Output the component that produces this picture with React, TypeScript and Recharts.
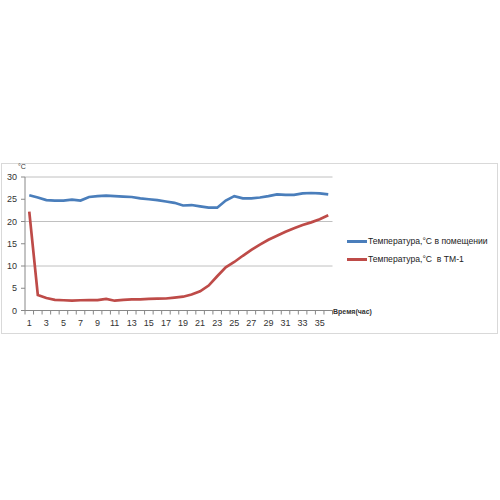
import React from 'react';
import { LineChart, Line, XAxis, YAxis, CartesianGrid } from 'recharts';

const hours = [1, 2, 3, 4, 5, 6, 7, 8, 9, 10, 11, 12, 13, 14, 15, 16, 17, 18, 19, 20, 21, 22, 23, 24, 25, 26, 27, 28, 29, 30, 31, 32, 33, 34, 35, 36];
const roomTemp = [25.9, 25.4, 24.8, 24.7, 24.7, 24.9, 24.7, 25.5, 25.7, 25.8, 25.7, 25.6, 25.5, 25.2, 25.0, 24.8, 24.5, 24.2, 23.6, 23.7, 23.4, 23.1, 23.1, 24.7, 25.7, 25.2, 25.2, 25.4, 25.7, 26.1, 26.0, 26.0, 26.3, 26.4, 26.3, 26.1];
const tmTemp = [22.2, 3.5, 2.8, 2.4, 2.3, 2.2, 2.3, 2.35, 2.35, 2.6, 2.2, 2.4, 2.5, 2.5, 2.6, 2.65, 2.7, 2.9, 3.1, 3.6, 4.3, 5.6, 7.7, 9.7, 10.9, 12.3, 13.6, 14.8, 15.9, 16.8, 17.7, 18.5, 19.2, 19.8, 20.5, 21.4];
const yTicks = [0, 5, 10, 15, 20, 25, 30];
const seriesNames = ['Температура,°C в помещении', 'Температура,°C  в ТМ-1'];
const seriesColors = ['#4A7EBB', '#BE4B48'];

const data = hours.map((h, i) => ({ hour: h, room: roomTemp[i], tm: tmTemp[i] }));

const FONT = '"Liberation Sans", Arial, sans-serif';
const HALF_BAND = 4.27;

const XTick = (props: any) => {
  const { x, y, payload, index } = props;
  const isLast = index === hours.length - 1;
  return (
    <g>
      <line x1={x - HALF_BAND} x2={x - HALF_BAND} y1={y - 6} y2={y - 2} stroke="#888" />
      {isLast && <line x1={x + HALF_BAND} x2={x + HALF_BAND} y1={y - 6} y2={y - 2} stroke="#888" />}
      {payload.value % 2 === 1 && (
        <text x={x} y={y + 3} dy="0.71em" textAnchor="middle" fontSize={9} fill="#333" fontFamily={FONT}>
          {payload.value}
        </text>
      )}
    </g>
  );
};

export default function App() {
  return (
    <div style={{ position: 'absolute', left: 0, top: 0, width: 500, height: 500, background: '#fff' }}>
      <div style={{ position: 'absolute', left: 1, top: 163, width: 495, height: 169, border: '1px solid #d9d9d9' }} />
      <div style={{ position: 'absolute', left: 0, top: 0 }}>
        <LineChart width={500} height={500} data={data} margin={{ top: 177, left: 0, right: 167.5, bottom: 159.5 }}>
          <CartesianGrid vertical={false} stroke="#c0c0c0" />
          <XAxis
            dataKey="hour"
            interval={0}
            tick={<XTick />}
            tickLine={false}
            tickSize={0}
            tickMargin={6}
            stroke="#888"
            height={30}
            padding={{ left: HALF_BAND, right: HALF_BAND }}
          />
          <YAxis
            domain={[0, 30]}
            ticks={yTicks}
            width={25}
            tickSize={4}
            tickMargin={4}
            stroke="#888"
            tick={{ fontSize: 9, fill: '#333', fontFamily: FONT }}
          />
          <Line type="linear" dataKey="room" name={seriesNames[0]} stroke={seriesColors[0]} strokeWidth={2.7} dot={false} isAnimationActive={false} />
          <Line type="linear" dataKey="tm" name={seriesNames[1]} stroke={seriesColors[1]} strokeWidth={2.7} dot={false} isAnimationActive={false} />
        </LineChart>
      </div>
      <div style={{ position: 'absolute', left: 347, top: 232, fontFamily: FONT, fontSize: 8.6, color: '#222' }}>
        {seriesNames.map((n, i) => (
          <div key={n} style={{ display: 'flex', alignItems: 'center', height: 18, whiteSpace: 'pre' }}>
            <div style={{ width: 20, height: 3, background: seriesColors[i], marginRight: 1 }} />
            <span>{n}</span>
          </div>
        ))}
      </div>
      <div style={{ position: 'absolute', left: 18, top: 163, fontFamily: FONT, fontSize: 7, color: '#333' }}>°C</div>
      <div style={{ position: 'absolute', left: 333, top: 308, fontFamily: FONT, fontSize: 7, fontWeight: 'bold', color: '#333' }}>Время(час)</div>
    </div>
  );
}
